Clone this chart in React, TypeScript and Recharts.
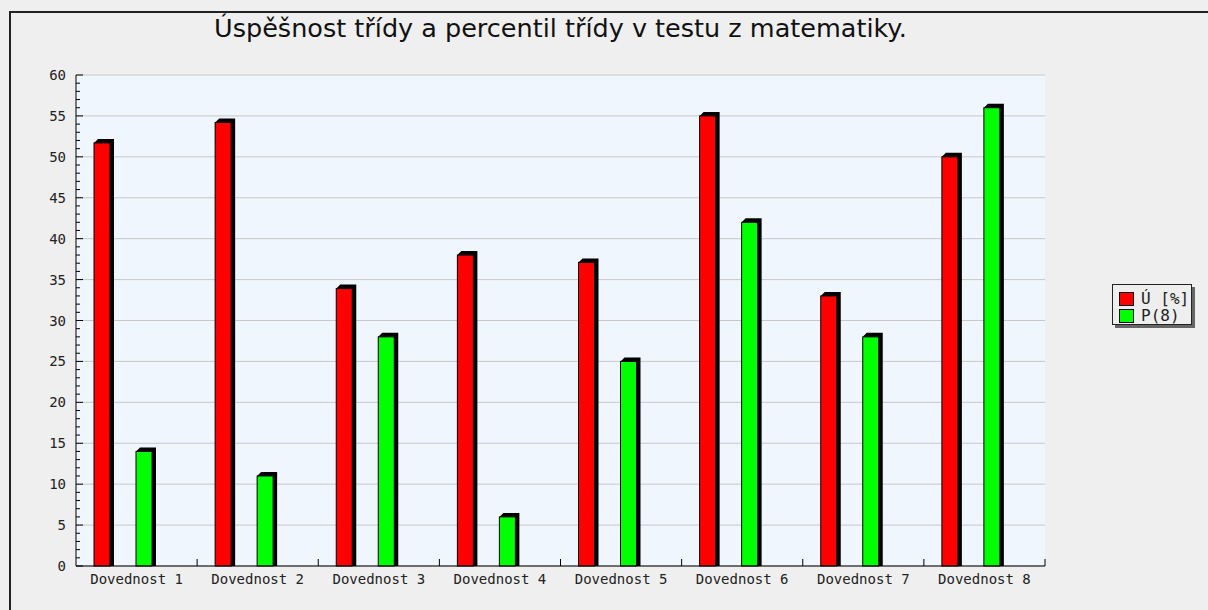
import React from "react"
import { Bar, BarChart, CartesianGrid, XAxis, YAxis } from "recharts"

const categories = [
  "Dovednost 1",
  "Dovednost 2",
  "Dovednost 3",
  "Dovednost 4",
  "Dovednost 5",
  "Dovednost 6",
  "Dovednost 7",
  "Dovednost 8",
]
const uspesnost = [51.7, 54.2, 33.9, 38, 37.1, 55, 33, 50]
const percentil = [14, 11, 28, 6, 25, 42, 28, 56]
const majorTicks = [0, 5, 10, 15, 20, 25, 30, 35, 40, 45, 50, 55, 60]
const minorTicks = Array.from({ length: 61 }, (_, i) => i)

const series = [
  { key: "u", name: "Ú [%]", color: "#ff0000" },
  { key: "p", name: "P(8)", color: "#00ff00" },
]

const data = categories.map((name, i) => ({ name, u: uspesnost[i], p: percentil[i] }))

const W = 1208
const H = 610
const M = { top: 75, right: 163, bottom: 14, left: 16 }
const PLOT_W = W - M.left - 60 - M.right
const BAND = PLOT_W / categories.length
const FONT = "'DejaVu Sans Mono', monospace"

function Bar3D(props: any) {
  const { x, y, width, height, fill } = props
  if (!height || height <= 0) return null
  const d = 4
  return (
    <g>
      <polygon
        points={`${x},${y} ${x + d},${y - d} ${x + width + d},${y - d} ${x + width + d},${y + height} ${x + width},${y + height}`}
        fill="#000"
      />
      <rect x={x} y={y} width={width} height={height} fill={fill} stroke="#000" strokeWidth={1} />
    </g>
  )
}

function YTick(props: any) {
  const { x, y, payload } = props
  const major = payload.value % 5 === 0
  return (
    <g>
      <line x1={x} x2={x + (major ? 7 : 4)} y1={y} y2={y} stroke="#000" />
      {major && (
        <text x={x - 10} y={y + 5} textAnchor="end" fontFamily={FONT} fontSize={14} fill="#222">
          {payload.value}
        </text>
      )}
    </g>
  )
}

function XTick(props: any) {
  const { x, y, payload } = props
  const bx = x + BAND / 2
  return (
    <g>
      <line x1={bx} x2={bx} y1={y} y2={y - 7} stroke="#000" />
      <text x={x} y={y + 18} textAnchor="middle" fontFamily={FONT} fontSize={14} fill="#222">
        {payload.value}
      </text>
    </g>
  )
}

function LegendBox() {
  return (
    <div
      style={{
        position: "absolute",
        left: 1112,
        top: 284,
        width: 80,
        height: 41,
        border: "1px solid #222",
        background: "#eeeeee",
        boxShadow: "3px 3px 0 #666",
        fontFamily: FONT,
        fontSize: 16,
        color: "#222",
        boxSizing: "border-box",
        padding: "5px 0 0 6px",
      }}
    >
      {series.map((s) => (
        <div key={s.key} style={{ display: "flex", alignItems: "center", height: 17 }}>
          <span
            style={{
              display: "inline-block",
              width: 13,
              height: 12,
              background: s.color,
              border: "1px solid #000",
              marginRight: 7,
            }}
          />
          <span style={{ lineHeight: "16px" }}>{s.name}</span>
        </div>
      ))}
    </div>
  )
}

export default function App() {
  return (
    <div style={{ position: "absolute", left: 0, top: 0, width: W, height: H, background: "#efefef", overflow: "hidden" }}>
      <div
        style={{
          position: "absolute",
          left: 9,
          top: 11,
          right: -5,
          bottom: -5,
          borderTop: "2px solid #222",
          borderLeft: "2px solid #222",
        }}
      />
      <div
        style={{
          position: "absolute",
          left: 76,
          width: PLOT_W,
          top: 13,
          textAlign: "center",
          fontFamily: "'DejaVu Sans', Verdana, sans-serif",
          fontSize: 25.5,
          lineHeight: "30px",
          color: "#111",
        }}
      >
        Úspěšnost třídy a percentil třídy v testu z matematiky.
      </div>
      <div style={{ position: "absolute", left: 0, top: 0 }}>
        <BarChart width={W} height={H} data={data} margin={M} barGap={26}>
          <CartesianGrid vertical={false} stroke="#c8c8c8" fill="#eff6fe" horizontalValues={majorTicks} />
          <XAxis
            dataKey="name"
            height={30}
            tickLine={false}
            tickSize={0}
            tickMargin={0}
            axisLine={{ stroke: "#000" }}
            tick={<XTick />}
            interval={0}
          />
          <YAxis
            width={60}
            domain={[0, 60]}
            ticks={minorTicks}
            interval={0}
            tickLine={false}
            tickSize={0}
            tickMargin={0}
            axisLine={{ stroke: "#000" }}
            tick={<YTick />}
          />
          {series.map((s) => (
            <Bar key={s.key} dataKey={s.key} name={s.name} fill={s.color} barSize={16} shape={<Bar3D />} isAnimationActive={false} />
          ))}
          <Bar dataKey="none" barSize={1} fill="transparent" legendType="none" isAnimationActive={false} />
        </BarChart>
      </div>
      <LegendBox />
    </div>
  )
}
